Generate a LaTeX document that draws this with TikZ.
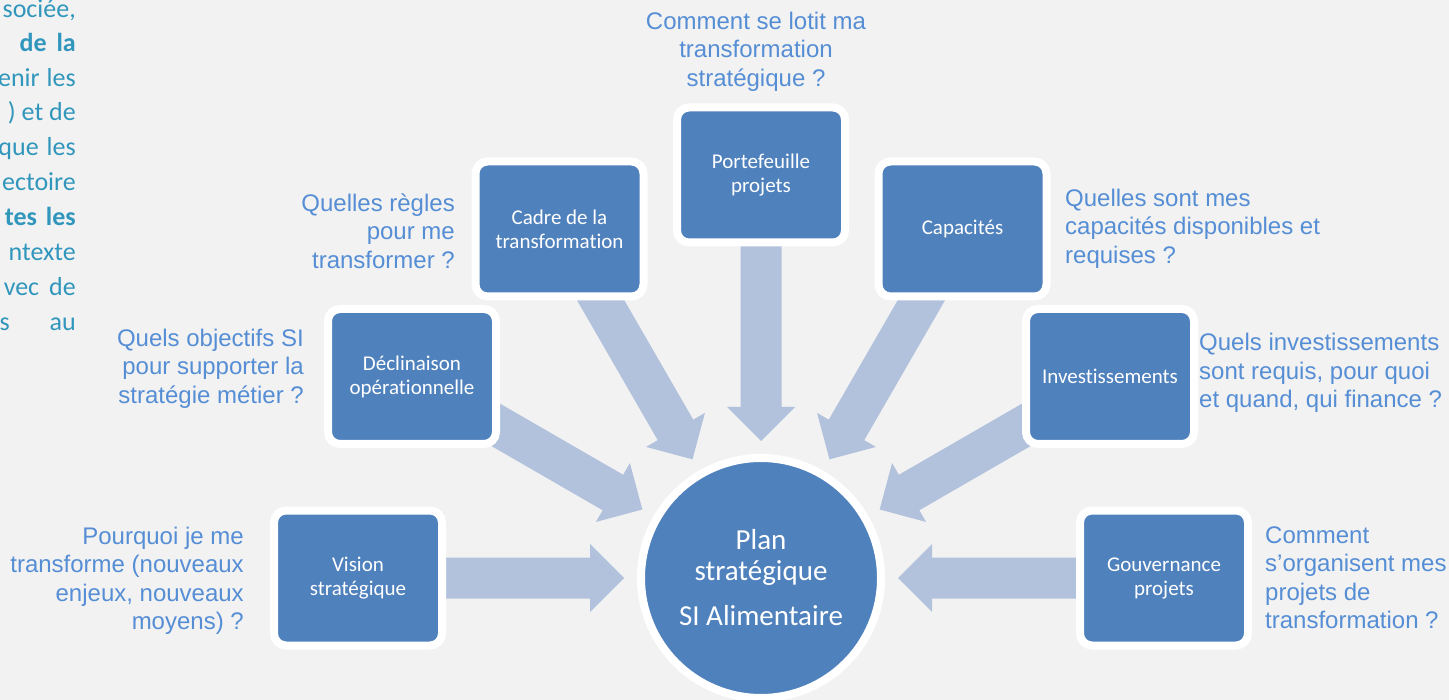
\documentclass[tikz,border=0pt]{standalone}
\usepackage{fontspec}
\setmainfont{Carlito}[Ligatures=NoCommon]
\newfontfamily\qfont{Liberation Sans}
\definecolor{bg}{HTML}{F2F2F2}
\definecolor{boxblue}{HTML}{4F81BD}
\definecolor{arrowblue}{HTML}{B2C2DD}
\definecolor{qblue}{HTML}{558ED5}
\definecolor{leadteal}{HTML}{3196BC}
\pgfdeclarelayer{canvas}
\pgfdeclarelayer{flows}
\pgfsetlayers{canvas,flows,main}
\begin{document}
\begin{tikzpicture}[x=1pt,y=-1pt,
  topic/.style={draw=white, line width=8pt, fill=boxblue, rounded corners=12pt,
    minimum width=168pt, minimum height=135pt, inner sep=0pt, align=center,
    text=white, font=\fontsize{21}{24}\selectfont},
  hub/.style={circle, draw=white, line width=8pt, fill=boxblue, minimum size=240pt,
    inner sep=0pt, align=center, text=white, font=\fontsize{29}{31}\selectfont},
  question/.style={text=qblue, font=\qfont\fontsize{24}{28.5}\selectfont, inner sep=0pt},
  lead/.style={text=leadteal, font=\fontsize{26}{30}\selectfont, inner sep=0pt, anchor=base east},
  flow/.style={fill=arrowblue}
]
\useasboundingbox (0,0) rectangle (1449,700);
\begin{pgfonlayer}{canvas}
  \fill[bg] (0,0) rectangle (1449,700);
\end{pgfonlayer}

% central plan
\node[hub] (hub) at (761,578) {Plan\\stratégique\\[14pt]SI Alimentaire};

% the seven topics, on an arc around the plan
\node[topic] (vision) at (358,578)   {Vision\\stratégique};
\node[topic] (declin) at (412,376.5) {Déclinaison\\opérationnelle};
\node[topic] (cadre)  at (559.5,229) {Cadre de la\\transformation};
\node[topic] (portef) at (761,175)   {Portefeuille\\projets};
\node[topic] (capac)  at (962.5,229) {Capacités};
\node[topic] (invest) at (1110,376.5){Investissements};
\node[topic] (gouv)   at (1164,578)  {Gouvernance\\projets};

% block arrows from each topic into the plan
\begin{pgfonlayer}{flows}
\foreach \b/\ang in {vision/180,declin/150,cadre/120,portef/90,capac/60,invest/30,gouv/0}{
  \begin{scope}[shift={(hub.center)}, rotate=\ang]
    \fill[flow] (403,20.5) -- (171,20.5) -- (171,34) -- (137,0) -- (171,-34)
      -- (171,-20.5) -- (403,-20.5) -- cycle;
  \end{scope}
}
\end{pgfonlayer}

% questions
\node[question, align=center, anchor=north] (qportef) at (756,11.5)
  {Comment se lotit ma\\transformation\\stratégique ?};
\node[question, align=right, anchor=north east] (qcadre) at (455,193.5)
  {Quelles règles\\pour me\\transformer ?};
\node[question, align=right, anchor=north east] (qdeclin) at (304,328.5)
  {Quels objectifs SI\\pour supporter la\\stratégie métier ?};
\node[question, align=right, anchor=north east] (qvision) at (244,526.5)
  {Pourquoi je me\\transforme (nouveaux\\enjeux, nouveaux\\moyens) ?};
\node[question, align=left, anchor=north west] (qcapac) at (1065,188.5)
  {Quelles sont mes\\capacités disponibles et\\requises ?};
\node[question, align=left, anchor=north west] (qinvest) at (1199,333)
  {Quels investissements\\sont requis, pour quoi\\et quand, qui finance ?};
\node[question, align=left, anchor=north west] (qgouv) at (1265,526.5)
  {Comment\\s’organisent mes\\projets de\\transformation ?};

% justified paragraph running off the left edge
\node[lead] (l1)  at (76,18)  {sociée,};
\node[lead] (l2)  at (76,52)  {\textbf{de}\hspace{10pt}\textbf{la}};
\node[lead] (l3)  at (76,86.5)  {enir\hspace{7pt}les};
\node[lead] (l4)  at (76,121) {)\hspace{6pt}et\hspace{6pt}de};
\node[lead] (l5)  at (76,156) {que\hspace{8pt}les};
\node[lead] (l6)  at (76,191) {ectoire};
\node[lead] (l7)  at (76,226) {\textbf{tes}\hspace{9pt}\textbf{les}};
\node[lead] (l8)  at (76,261) {ntexte};
\node[lead] (l9)  at (76,296) {vec\hspace{10pt}de};
\node[lead] (l10) at (76,331) {s\hspace{40pt}au};
\end{tikzpicture}
\end{document}
